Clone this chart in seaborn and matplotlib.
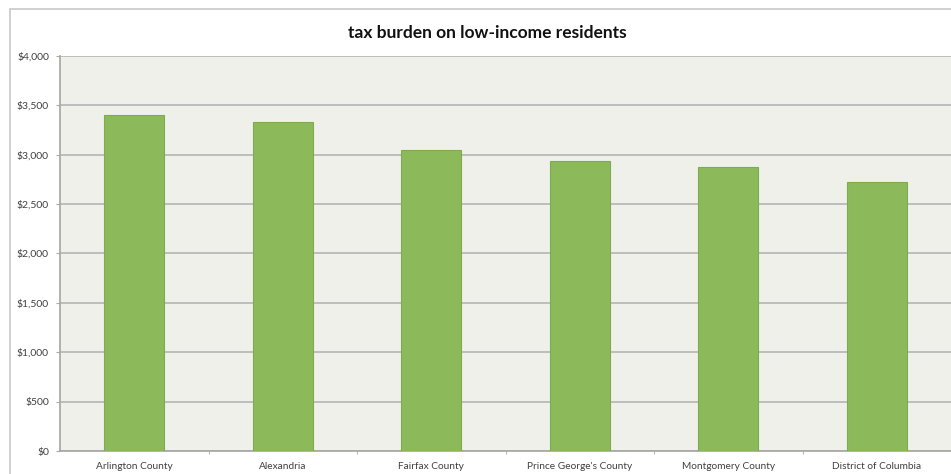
import pandas as pd
import seaborn as sns
import matplotlib.pyplot as plt
from matplotlib.patches import Rectangle
from matplotlib.ticker import FuncFormatter, FixedLocator

# data
counties = ['Arlington County', 'Alexandria', 'Fairfax County',
            "Prince George's County", 'Montgomery County', 'District of Columbia']
tax_burden = [3400, 3330, 3050, 2935, 2880, 2720]

df = pd.DataFrame({'county': counties, 'tax': tax_burden})

sns.set_theme(style='white')
plt.rcParams['font.family'] = ['Lato', 'DejaVu Sans']

fig = plt.figure(figsize=(9.51, 4.74), dpi=100)
ax = fig.add_axes([0.0631, 0.0485, 0.9369, 0.8334])

# chart frame like the spreadsheet chart border
fig.patches.append(Rectangle((10 / 951, -0.01), 1.0, (474 - 9) / 474 + 0.01,
                             transform=fig.transFigure, fill=False,
                             edgecolor='#c8c8c8', linewidth=1.2, zorder=0))

sns.barplot(data=df, x='county', y='tax', color='#8cba5a', width=0.405,
            saturation=1, edgecolor='#7eab4e', linewidth=0.8, ax=ax, zorder=3)

ax.set_facecolor('#f0f0ea')
ax.set_ylim(0, 4000)
ax.set_xlim(-0.5, 5.5)
ax.set_yticks(range(0, 4001, 500))
ax.yaxis.set_major_formatter(FuncFormatter(lambda v, p: f'${int(v):,}'))
ax.grid(axis='y', color='#b0b0b0', linewidth=1.1, zorder=0)
ax.set_axisbelow(True)

for side in ['top', 'right']:
    ax.spines[side].set_visible(False)
ax.spines['left'].set_color('#a8a8a8')
ax.spines['bottom'].set_color('#a8a8a8')

ax.tick_params(axis='y', labelsize=7.5, colors='#404040', length=3, width=0.8,
               left=True, pad=5)
ax.tick_params(axis='y', color='#a8a8a8')
ax.tick_params(axis='x', labelsize=7.3, colors='#404040', length=0, pad=8)
ax.xaxis.set_minor_locator(FixedLocator([0.5, 1.5, 2.5, 3.5, 4.5]))
ax.tick_params(axis='x', which='minor', bottom=True, length=2, width=0.8, color='#b8b8b8')

ax.set_xlabel('')
ax.set_ylabel('')
fig.text(487 / 951, 1 - 33 / 474, 'tax burden on low-income residents',
         ha='center', va='center', fontsize=12.5, fontweight='bold', color='#111111')

plt.savefig('out.png', dpi=100)
plt.close()
